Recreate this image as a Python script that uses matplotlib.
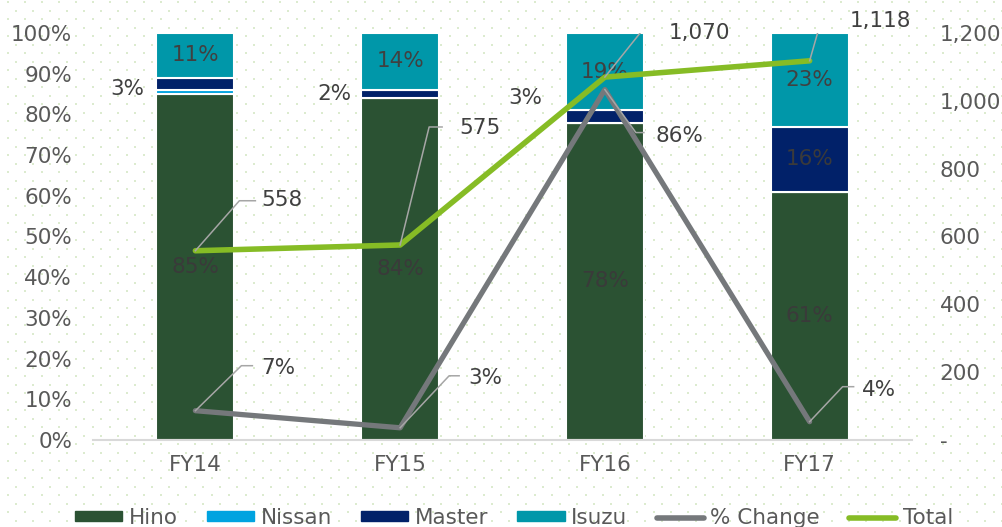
import numpy as np
import matplotlib.pyplot as plt
from matplotlib.patches import Patch
from matplotlib.lines import Line2D
from matplotlib.ticker import FuncFormatter

# data
years = ["FY14", "FY15", "FY16", "FY17"]
hino = [85, 84, 78, 61]
nissan = [1, 0, 0, 0]
master = [3, 2, 3, 16]
isuzu = [11, 14, 19, 23]
pct_change = [7.2, 3.0, 86.1, 4.5]
total = [558, 575, 1070, 1118]

# label placement (pixels): kink dx, kink dy, end dx, text dx, text dy
total_leaders = [(44, 50, 60, 66, 51), (29, 118, 42, 59, 117),
                 (36, 45, 47, 64, 44), (12, 42, 26, 40, 40)]
pct_leaders = [(46, 45, 57, 66, 43), (49, 52, 59, 68, 50),
               (31, -43, 39, 51, -46), (33, 35, 44, 52, 32)]
master_side = [(-51, -5), (-49, 0), (-63, 18)]

C_HINO = "#2b5233"
C_NISSAN = "#00a3e0"
C_MASTER = "#012169"
C_ISUZU = "#0097a9"
C_CHANGE = "#75787b"
C_TOTAL = "#86bc25"
C_TEXT = "#404040"
C_TICK = "#595959"
FS = 15.5

plt.rcParams["font.family"] = ["DejaVu Sans"]

fig = plt.figure(figsize=(10.03, 5.27), dpi=100)

# dotted background
bg = fig.add_axes([0, 0, 1, 1], zorder=-1)
bg.set_xlim(0, 1003)
bg.set_ylim(527, 0)
bg.axis("off")
dx, dy = [], []
for r, yy in enumerate(np.arange(2, 527, 8.5)):
    for xx in np.arange(8 + (8.5 if r % 2 else 0), 1003, 17):
        dx.append(xx)
        dy.append(yy)
bg.scatter(dx, dy, s=1.2, marker="s", color="#dcebcf", linewidths=0)

ax = fig.add_axes([93 / 1003, 87 / 527, 819 / 1003, 407 / 527])
ax.patch.set_alpha(0)
ax2 = ax.twinx()

x = np.arange(len(years))
w = 0.38
bottom = np.zeros(len(years))
for vals, col in [(hino, C_HINO), (nissan, C_NISSAN), (master, C_MASTER), (isuzu, C_ISUZU)]:
    ax.bar(x, vals, w, bottom=bottom, color=col, edgecolor="white", linewidth=1.5, zorder=2)
    bottom += np.array(vals)

# in-bar labels
for i in range(len(years)):
    ax.text(x[i], hino[i] / 2, f"{hino[i]}%", ha="center", va="center", fontsize=FS, color="#3a3a3a", zorder=3)
    top0 = hino[i] + nissan[i] + master[i]
    ax.text(x[i], top0 + isuzu[i] / 2, f"{isuzu[i]}%", ha="center", va="center", fontsize=FS, color=C_TEXT, zorder=3)
ax.text(x[3], hino[3] + nissan[3] + master[3] / 2, f"{master[3]}%", ha="center", va="center",
        fontsize=FS, color="#3a3a3a", zorder=3)
for i, (ox, oy) in enumerate(master_side):
    yc = hino[i] + nissan[i] + master[i] / 2
    ax.annotate(f"{master[i]}%", (x[i], yc), xytext=(ox, oy), textcoords="offset pixels",
                ha="right", va="center", fontsize=FS, color=C_TEXT)

ax.plot(x, pct_change, color=C_CHANGE, lw=3.8, zorder=4, solid_capstyle="round")
ax2.plot(x, total, color=C_TOTAL, lw=4, zorder=4, solid_capstyle="round")

ax.set_xlim(-0.5, 3.5)
ax.set_ylim(0, 100)
ax2.set_ylim(0, 1200)
ax.set_yticks(np.arange(0, 101, 10))
ax.yaxis.set_major_formatter(FuncFormatter(lambda v, p: f"{v:.0f}%"))
ax2.set_yticks(np.arange(0, 1201, 200))
ax2.yaxis.set_major_formatter(FuncFormatter(lambda v, p: "-" if v == 0 else f"{v:,.0f}"))
ax.set_xticks(x)
ax.set_xticklabels(years)

for a in (ax, ax2):
    for s in a.spines.values():
        s.set_visible(False)
    a.tick_params(length=0, labelsize=FS, labelcolor=C_TICK)
ax.spines["bottom"].set_visible(True)
ax.spines["bottom"].set_color("#d9d9d9")
ax.spines["bottom"].set_linewidth(1.5)
ax.tick_params(axis="y", pad=15)
ax.tick_params(axis="x", pad=11)
ax2.tick_params(axis="y", pad=20)


def leader(src_ax, xv, yv, geo, label):
    kx, ky, ex, tx, ty = geo
    p = src_ax.transData.transform((xv, yv))
    pts = np.array([p, p + (kx, ky), p + (ex, ky)])
    d = ax2.transData.inverted().transform(pts)
    ax2.plot(d[:, 0], d[:, 1], color="#a6a6a6", lw=1.1, zorder=5)
    t = ax2.transData.inverted().transform(p + (tx, ty))
    ax2.text(t[0], t[1], label, ha="left", va="center", fontsize=FS, color=C_TEXT, zorder=6)


for i in range(len(years)):
    leader(ax2, x[i], total[i], total_leaders[i], f"{total[i]:,}")
    leader(ax, x[i], pct_change[i], pct_leaders[i], f"{int(pct_change[i])}%")

handles = [Patch(color=C_HINO), Patch(color=C_NISSAN), Patch(color=C_MASTER), Patch(color=C_ISUZU),
           Line2D([], [], color=C_CHANGE, lw=4, solid_capstyle="round"),
           Line2D([], [], color=C_TOTAL, lw=4, solid_capstyle="round")]
fig.legend(handles, ["Hino", "Nissan", "Master", "Isuzu", "% Change", "Total"], loc="center",
           bbox_to_anchor=(514 / 1003, 9 / 527), ncol=6, frameon=False, fontsize=FS,
           labelcolor=C_TICK, handlelength=2.2, handleheight=0.35, handletextpad=0.3,
           columnspacing=1.35)

fig.savefig("out.png", dpi=100)
